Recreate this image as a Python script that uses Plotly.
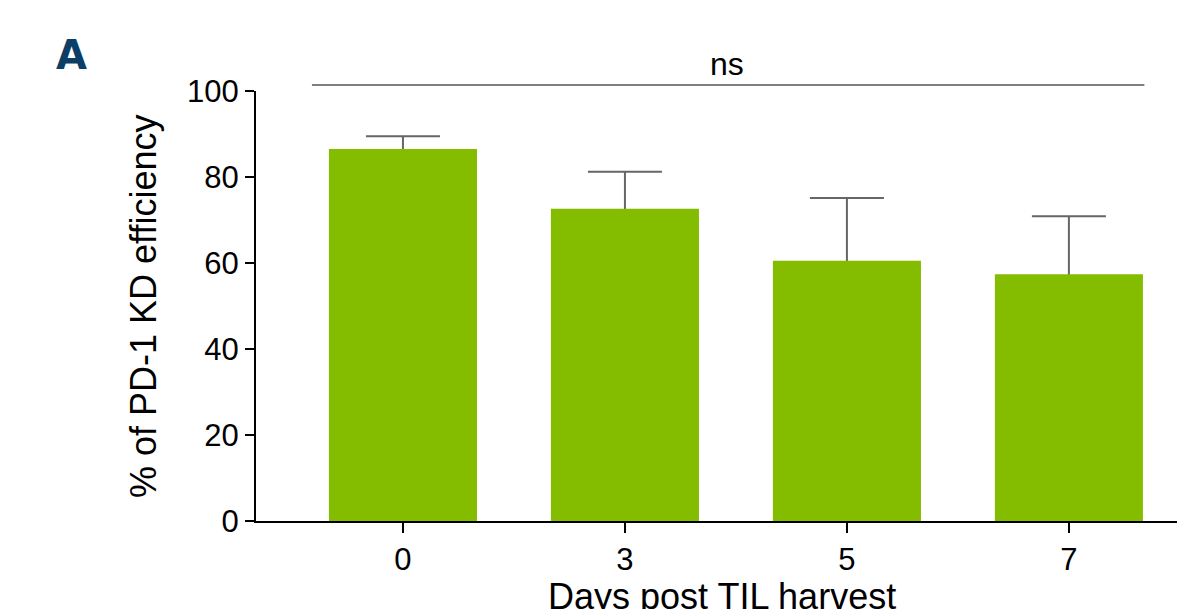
import plotly.graph_objects as go

categories = ["0", "3", "5", "7"]
means = [86.5, 72.6, 60.5, 57.4]
errors_upper = [3.0, 8.6, 14.6, 13.5]
y_ticks = [0, 20, 40, 60, 80, 100]

positions = list(range(len(categories)))

# page is rendered with an 8px body margin; plot area on page: x 256..1185, y 91..521
OFF = 8
L, R, T, B = 256 - OFF, 1185 - OFF, 91 - OFF, 521 - OFF
W, H = 1185, 609
PW, PH = R - L, B - T


def px(xp):
    return (xp - OFF - L) / PW


def py(yp):
    return (B - (yp - OFF)) / PH


fig = go.Figure()
# error bars (symmetric) drawn first; the green bars drawn afterwards hide the lower half
fig.add_trace(go.Bar(
    x=positions, y=means, width=0.667,
    marker=dict(color="rgba(0,0,0,0)", line=dict(width=0)),
    error_y=dict(type="data", array=errors_upper, color="#666666",
                 thickness=2, width=37),
))
fig.add_trace(go.Bar(
    x=positions, y=means, width=0.667,
    marker=dict(color="#84BC00", line=dict(width=0)),
))

font = "Liberation Sans, Arial, sans-serif"
fig.update_layout(
    width=W, height=H,
    margin=dict(l=L, r=W - R, t=T, b=H - B),
    paper_bgcolor="white", plot_bgcolor="white",
    showlegend=False, barmode="overlay",
    font=dict(family=font, size=31, color="black"),
    xaxis=dict(range=[-0.662, 3.523], tickmode="array", tickvals=positions,
               ticktext=categories, showline=True, linecolor="black",
               linewidth=2, ticks="outside", ticklen=10, tickwidth=2,
               tickcolor="black", showgrid=False, zeroline=False,
               tickfont=dict(size=31)),
    yaxis=dict(range=[0, 100], tickmode="array", tickvals=y_ticks,
               showline=True, linecolor="black", linewidth=2,
               ticks="outside", ticklen=9, tickwidth=2, tickcolor="black",
               showgrid=False, zeroline=False, tickfont=dict(size=31)),
)

fig.add_shape(type="line", xref="x", yref="paper", x0=-0.41, x1=3.34,
              y0=py(85), y1=py(85), line=dict(color="#555555", width=1.5))
fig.add_annotation(text="ns", xref="x", yref="paper", x=1.46, y=py(64),
                   showarrow=False, font=dict(size=32), yanchor="middle")
fig.add_annotation(text="<b>A</b>", xref="paper", yref="paper",
                   x=px(71), y=py(55), showarrow=False,
                   font=dict(family="DejaVu Sans", size=40, color="#0B3F66"),
                   xanchor="center", yanchor="middle")
fig.add_annotation(text="% of PD-1 KD efficiency", xref="paper", yref="paper",
                   x=px(143), y=py(307), textangle=-90, showarrow=False,
                   font=dict(size=36), xanchor="center", yanchor="middle")
fig.add_annotation(text="Days post TIL harvest", xref="paper", yref="paper",
                   x=px(722), y=py(596), showarrow=False,
                   font=dict(size=36), xanchor="center", yanchor="middle")

fig.write_html("out.html")
